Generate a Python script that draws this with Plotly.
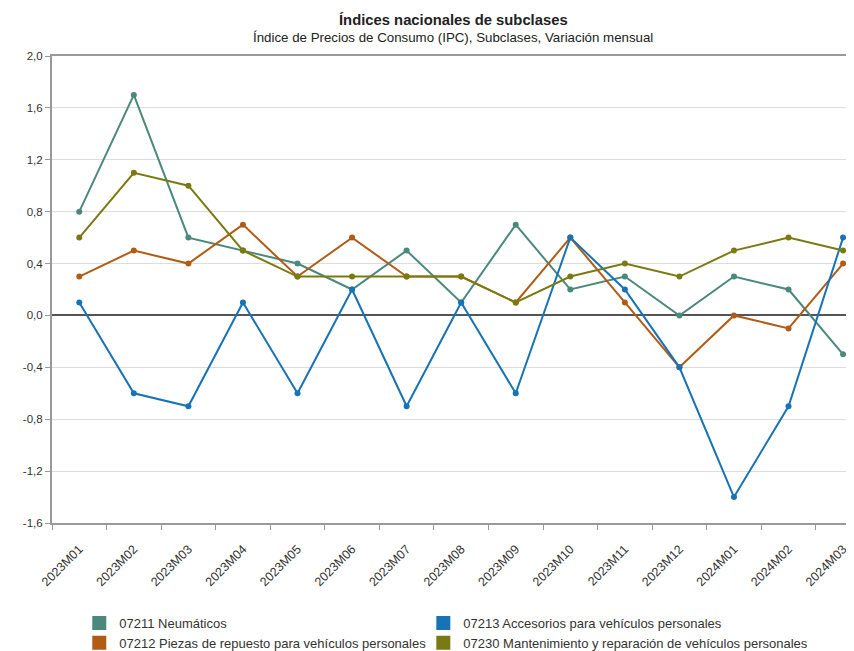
import plotly.graph_objects as go

categories = ["2023M01", "2023M02", "2023M03", "2023M04", "2023M05", "2023M06", "2023M07",
              "2023M08", "2023M09", "2023M10", "2023M11", "2023M12", "2024M01", "2024M02", "2024M03"]

neumaticos = [0.8, 1.7, 0.6, 0.5, 0.4, 0.2, 0.5, 0.1, 0.7, 0.2, 0.3, 0.0, 0.3, 0.2, -0.3]
piezas = [0.3, 0.5, 0.4, 0.7, 0.3, 0.6, 0.3, 0.3, 0.1, 0.6, 0.1, -0.4, 0.0, -0.1, 0.4]
accesorios = [0.1, -0.6, -0.7, 0.1, -0.6, 0.2, -0.7, 0.1, -0.6, 0.6, 0.2, -0.4, -1.4, -0.7, 0.6]
mantenimiento = [0.6, 1.1, 1.0, 0.5, 0.3, 0.3, 0.3, 0.3, 0.1, 0.3, 0.4, 0.3, 0.5, 0.6, 0.5]

y_tickvals = [2.0, 1.6, 1.2, 0.8, 0.4, 0.0, -0.4, -0.8, -1.2, -1.6]
y_ticktext = ["2,0", "1,6", "1,2", "0,8", "0,4", "0,0", "-0,4", "-0,8", "-1,2", "-1,6"]

series = [
    ("07211 Neumáticos", neumaticos, "#4a897c", "legend"),
    ("07212 Piezas de repuesto para vehículos personales", piezas, "#b05c16", "legend"),
    ("07213 Accesorios para vehículos personales", accesorios, "#1773b5", "legend2"),
    ("07230 Mantenimiento y reparación de vehículos personales", mantenimiento, "#7a7a14", "legend2"),
]

fig = go.Figure()
for name, vals, col, lg in series:
    fig.add_trace(go.Scatter(
        x=categories, y=vals, name=name, mode="lines+markers",
        line=dict(color=col, width=2), marker=dict(color=col, size=6),
        showlegend=False, hoverinfo="x+y+name"))

for name, vals, col, lg in series:
    fig.add_trace(go.Scatter(
        x=[None], y=[None], name=name, mode="markers", legend=lg,
        marker=dict(color=col, size=14, symbol="square"), showlegend=True))

legend_style = dict(orientation="v", xanchor="left", y=-0.182, yanchor="top",
                    font=dict(size=13, color="#333"), itemsizing="trace",
                    traceorder="normal", bgcolor="rgba(0,0,0,0)")

fig.update_layout(
    width=846, height=643,
    margin=dict(l=44, r=0, t=48, b=128, autoexpand=False),
    paper_bgcolor="white", plot_bgcolor="white",
    font=dict(family="Liberation Sans, Arial, sans-serif", size=12, color="#333"),
    showlegend=True,
    legend=dict(x=0.034, **legend_style),
    legend2=dict(x=0.463, **legend_style),
    annotations=[
        dict(text="<b>Índices nacionales de subclases</b>", xref="paper", yref="paper",
             x=0.5, y=1, yshift=36, xanchor="center", yanchor="middle", showarrow=False,
             font=dict(size=14.8, color="#222")),
        dict(text="Índice de Precios de Consumo (IPC), Subclases, Variación mensual",
             xref="paper", yref="paper", x=0.5, y=1, yshift=19, xanchor="center",
             yanchor="middle", showarrow=False, font=dict(size=13.3, color="#222")),
    ],
)

fig.update_xaxes(
    type="category", categoryorder="array", categoryarray=categories,
    range=[-0.5, 14.2], tickangle=-45, tickson="boundaries",
    ticks="outside", ticklen=5, tickcolor="#999", tickwidth=1,
    showline=True, linecolor="#999", linewidth=2, mirror=True,
    showgrid=False, tickfont=dict(size=12.5, color="#333"), fixedrange=True,
    ticklabelstandoff=12, automargin=False)

fig.update_yaxes(
    range=[-1.6, 2.0], tickvals=y_tickvals, ticktext=y_ticktext,
    ticks="outside", ticklen=5, tickcolor="#999", tickwidth=1,
    showline=True, linecolor="#999", linewidth=2,
    showgrid=True, gridcolor="#dddddd", gridwidth=1,
    zeroline=True, zerolinecolor="#555", zerolinewidth=1.5,
    tickfont=dict(size=11.5, color="#333"), fixedrange=True, automargin=False)

fig.write_html("out.html")
